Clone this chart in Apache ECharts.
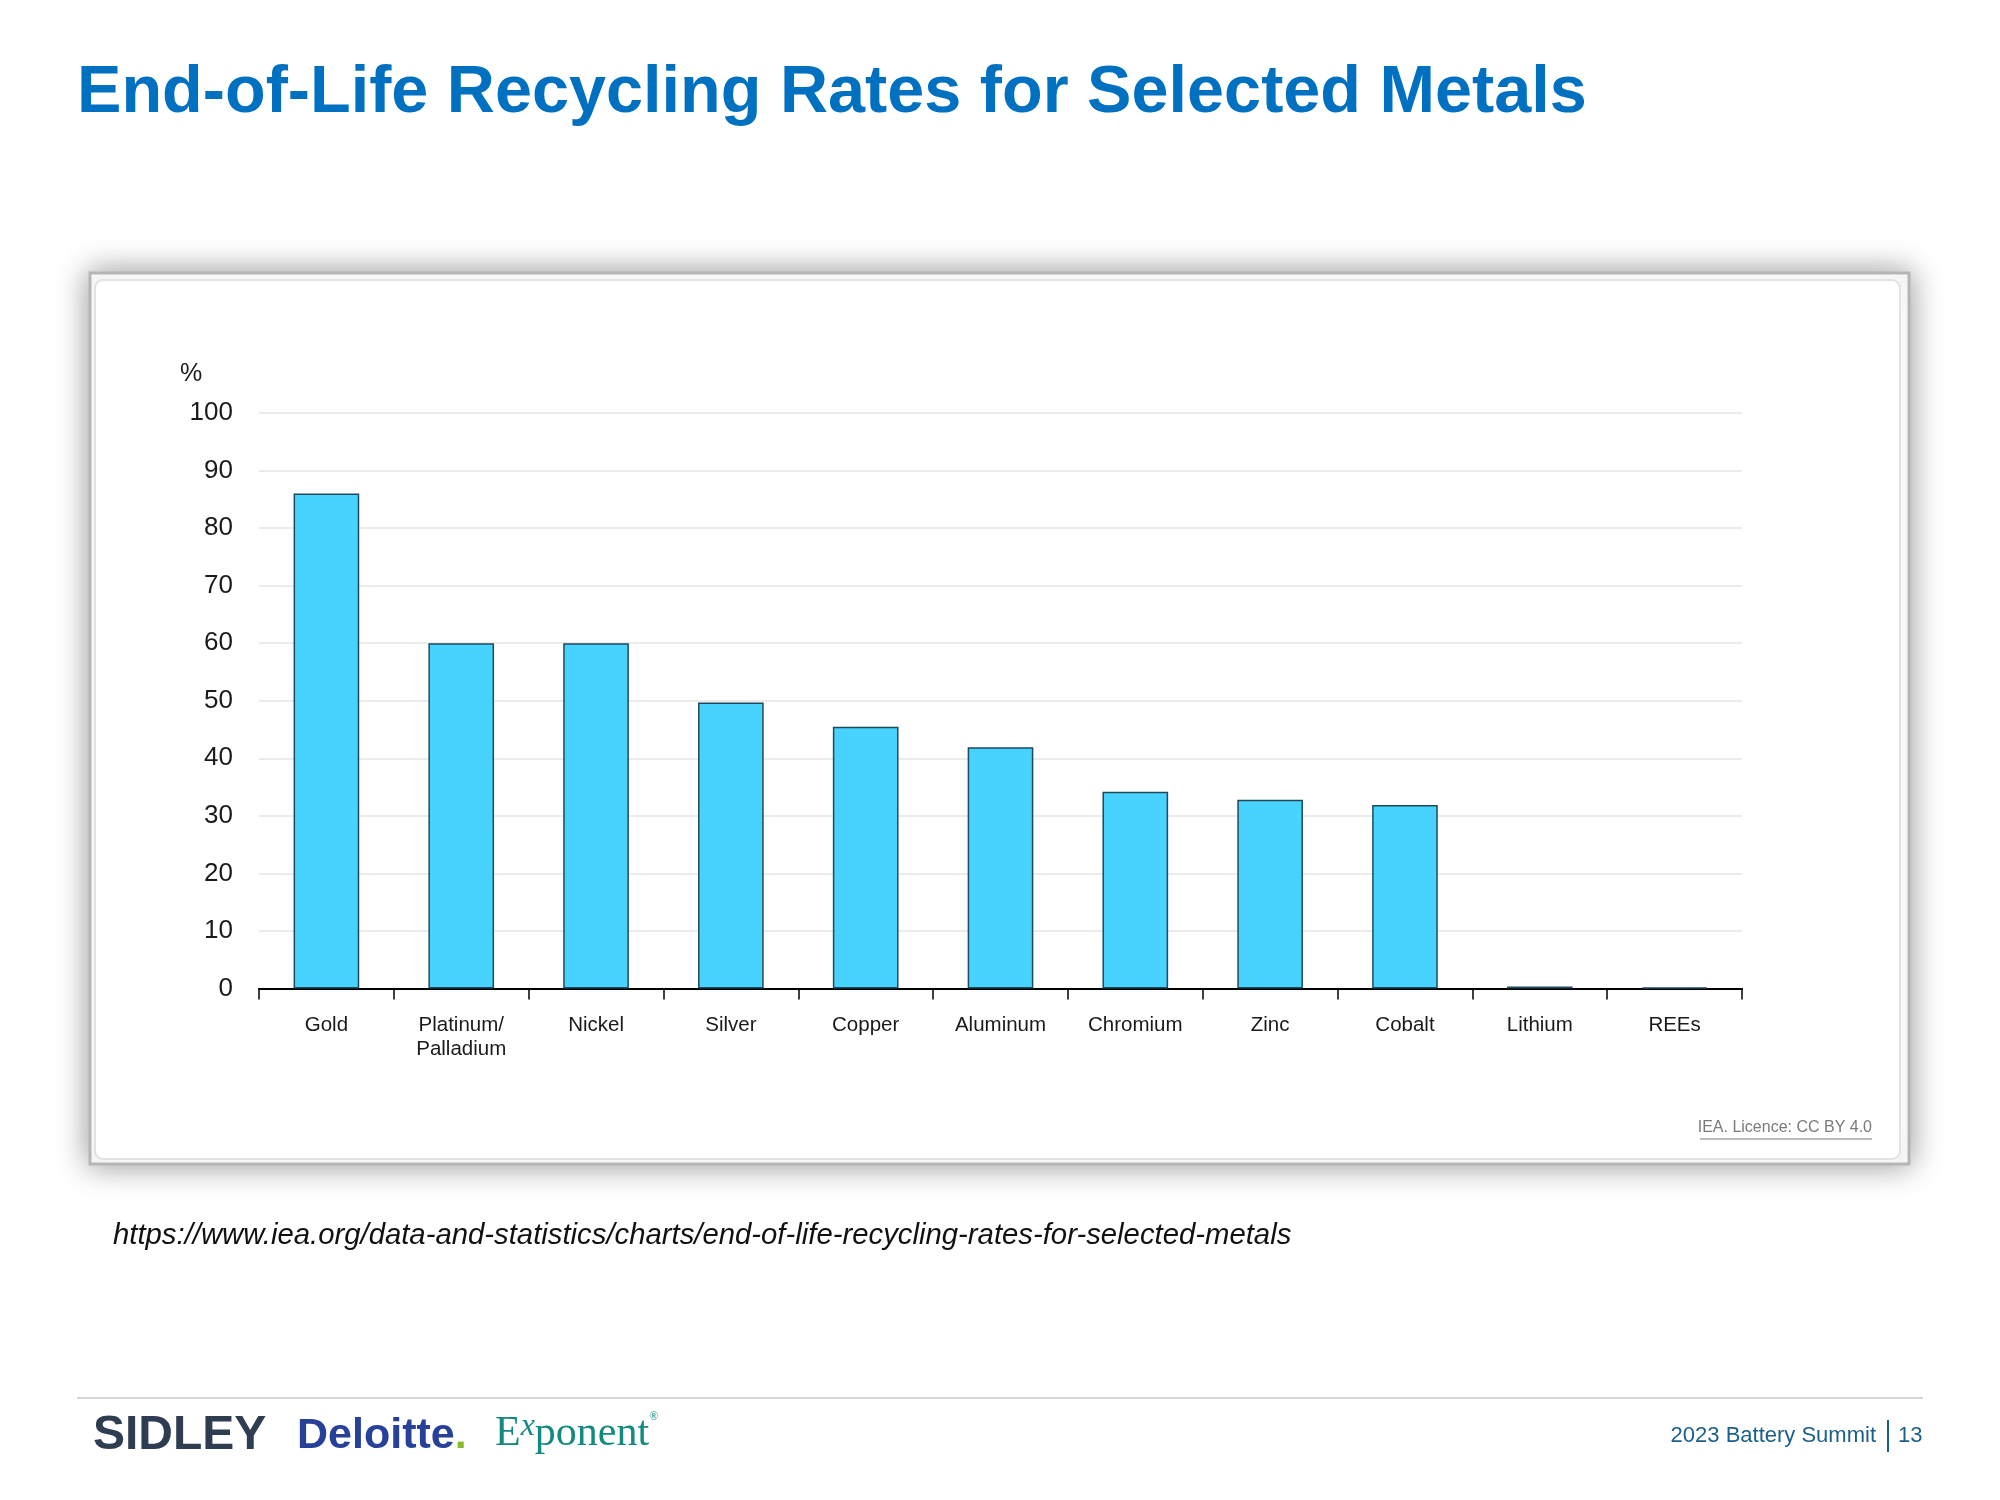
<!DOCTYPE html>
<html>
<head>
<meta charset="utf-8">
<script src="https://cdn.jsdelivr.net/npm/echarts@6/dist/echarts.min.js"></script>
<style>
html,body{margin:0;padding:0;background:#fff;}
#main{width:2000px;height:1500px;}
</style>
</head>
<body>
<div id="main"></div>
<script>
const categories = ['Gold', 'Platinum/\nPalladium', 'Nickel', 'Silver', 'Copper', 'Aluminum', 'Chromium', 'Zinc', 'Cobalt', 'Lithium', 'REEs'];
const recyclingRates = [86, 60, 60, 49.7, 45.5, 41.9, 34.2, 32.8, 31.9, 0.35, 0.2];
const yTicks = { min: 0, max: 100, interval: 10 };

const FONT = '"Liberation Sans", Arial, sans-serif';
const chart = echarts.init(document.getElementById('main'), null, { renderer: 'canvas' });

const option = {
  backgroundColor: '#ffffff',
  animation: false,
  grid: { left: 259, right: 258, top: 413, bottom: 511.5, containLabel: false },
  xAxis: {
    type: 'category',
    data: categories,
    boundaryGap: true,
    axisLine: { show: true, lineStyle: { color: '#000', width: 2 } },
    axisTick: { show: true, length: 11, lineStyle: { color: '#000', width: 1.5 } },
    axisLabel: { color: '#1a1a1a', fontSize: 20.5, fontFamily: FONT, margin: 25, lineHeight: 24, interval: 0 }
  },
  yAxis: {
    type: 'value',
    min: yTicks.min, max: yTicks.max, interval: yTicks.interval,
    axisLine: { show: false },
    axisTick: { show: false },
    axisLabel: { color: '#1a1a1a', fontSize: 26, fontFamily: FONT, margin: 26 },
    splitLine: { show: true, lineStyle: { color: '#e4e4e4', width: 1.5 } }
  },
  series: [{
    type: 'bar',
    data: recyclingRates,
    barWidth: '48.7%',
    itemStyle: { color: '#48D3FE', borderColor: '#1f4a5c', borderWidth: 1.5 }
  }],
  graphic: [
    // card shadow & panel
    { type: 'rect', z: -10, shape: { x: 90, y: 273, width: 1819, height: 891 },
      style: { fill: '#ffffff', stroke: '#b5b5b5', lineWidth: 3, shadowBlur: 30, shadowColor: 'rgba(0,0,0,0.4)', shadowOffsetX: 0, shadowOffsetY: 0 } },
    { type: 'rect', z: -9, shape: { x: 95, y: 280, width: 1805, height: 879, r: 8 },
      style: { fill: '#ffffff', stroke: '#e2e2e2', lineWidth: 2 } },
    // title
    { type: 'text', z: 10, x: 77, y: 94,
      style: { text: 'End-of-Life Recycling Rates for Selected Metals', fill: '#0070C0', font: 'bold 66.6px ' + FONT, textVerticalAlign: 'middle', textAlign: 'left' } },
    // unit
    { type: 'text', z: 10, x: 180, y: 374,
      style: { text: '%', fill: '#1a1a1a', font: '25px ' + FONT, textVerticalAlign: 'middle', textAlign: 'left' } },
    // licence
    { type: 'text', z: 10, x: 1872, y: 1128,
      style: { text: 'IEA. Licence: CC BY 4.0', fill: '#7a7a7a', font: '16px ' + FONT, textVerticalAlign: 'middle', textAlign: 'right' } },
    { type: 'line', z: 10, shape: { x1: 1700, y1: 1139, x2: 1872, y2: 1139 }, style: { stroke: '#7a7a7a', lineWidth: 1.2 } },
    // source url
    { type: 'text', z: 10, x: 113, y: 1236,
      style: { text: 'https://www.iea.org/data-and-statistics/charts/end-of-life-recycling-rates-for-selected-metals', fill: '#111', font: 'italic 29.3px ' + FONT, textVerticalAlign: 'middle', textAlign: 'left' } },
    // footer line
    { type: 'line', z: 10, shape: { x1: 77, y1: 1398, x2: 1923, y2: 1398 }, style: { stroke: '#d3d7da', lineWidth: 2 } },
    // logos
    { type: 'text', z: 10, x: 93, y: 1436,
      style: { text: 'SIDLEY', fill: '#2e3d52', font: 'bold 48px ' + FONT, textVerticalAlign: 'middle', textAlign: 'left' } },
    { type: 'text', z: 10, x: 297, y: 1436,
      style: { text: '{a|Deloitte}{b|.}', textVerticalAlign: 'middle', textAlign: 'left',
        rich: { a: { fill: '#27409a', font: 'bold 43px ' + FONT }, b: { fill: '#86bc25', font: 'bold 43px ' + FONT } } } },
    { type: 'text', z: 10, x: 495, y: 1434,
      style: { text: '{e|E}{x|x}{p|ponent}{r|®}', textVerticalAlign: 'middle', textAlign: 'left',
        rich: {
          e: { fill: '#128a80', font: '42px "Liberation Serif", serif' },
          x: { fill: '#128a80', font: 'italic 32px "Liberation Serif", serif', verticalAlign: 'top', padding: [0, 0, 14, 0] },
          p: { fill: '#128a80', font: '42px "Liberation Serif", serif' },
          r: { fill: '#128a80', font: '12px "Liberation Serif", serif', verticalAlign: 'top', padding: [0, 0, 22, 0] }
        } } },
    // footer right text
    { type: 'text', z: 10, x: 1876, y: 1436,
      style: { text: '2023 Battery Summit', fill: '#1b5f8c', font: '22px ' + FONT, textVerticalAlign: 'middle', textAlign: 'right' } },
    { type: 'line', z: 10, shape: { x1: 1888, y1: 1420, x2: 1888, y2: 1452 }, style: { stroke: '#1b5f8c', lineWidth: 2 } },
    { type: 'text', z: 10, x: 1898, y: 1436,
      style: { text: '13', fill: '#1b5f8c', font: '22px ' + FONT, textVerticalAlign: 'middle', textAlign: 'left' } }
  ]
};
chart.setOption(option);
</script>
</body>
</html>
